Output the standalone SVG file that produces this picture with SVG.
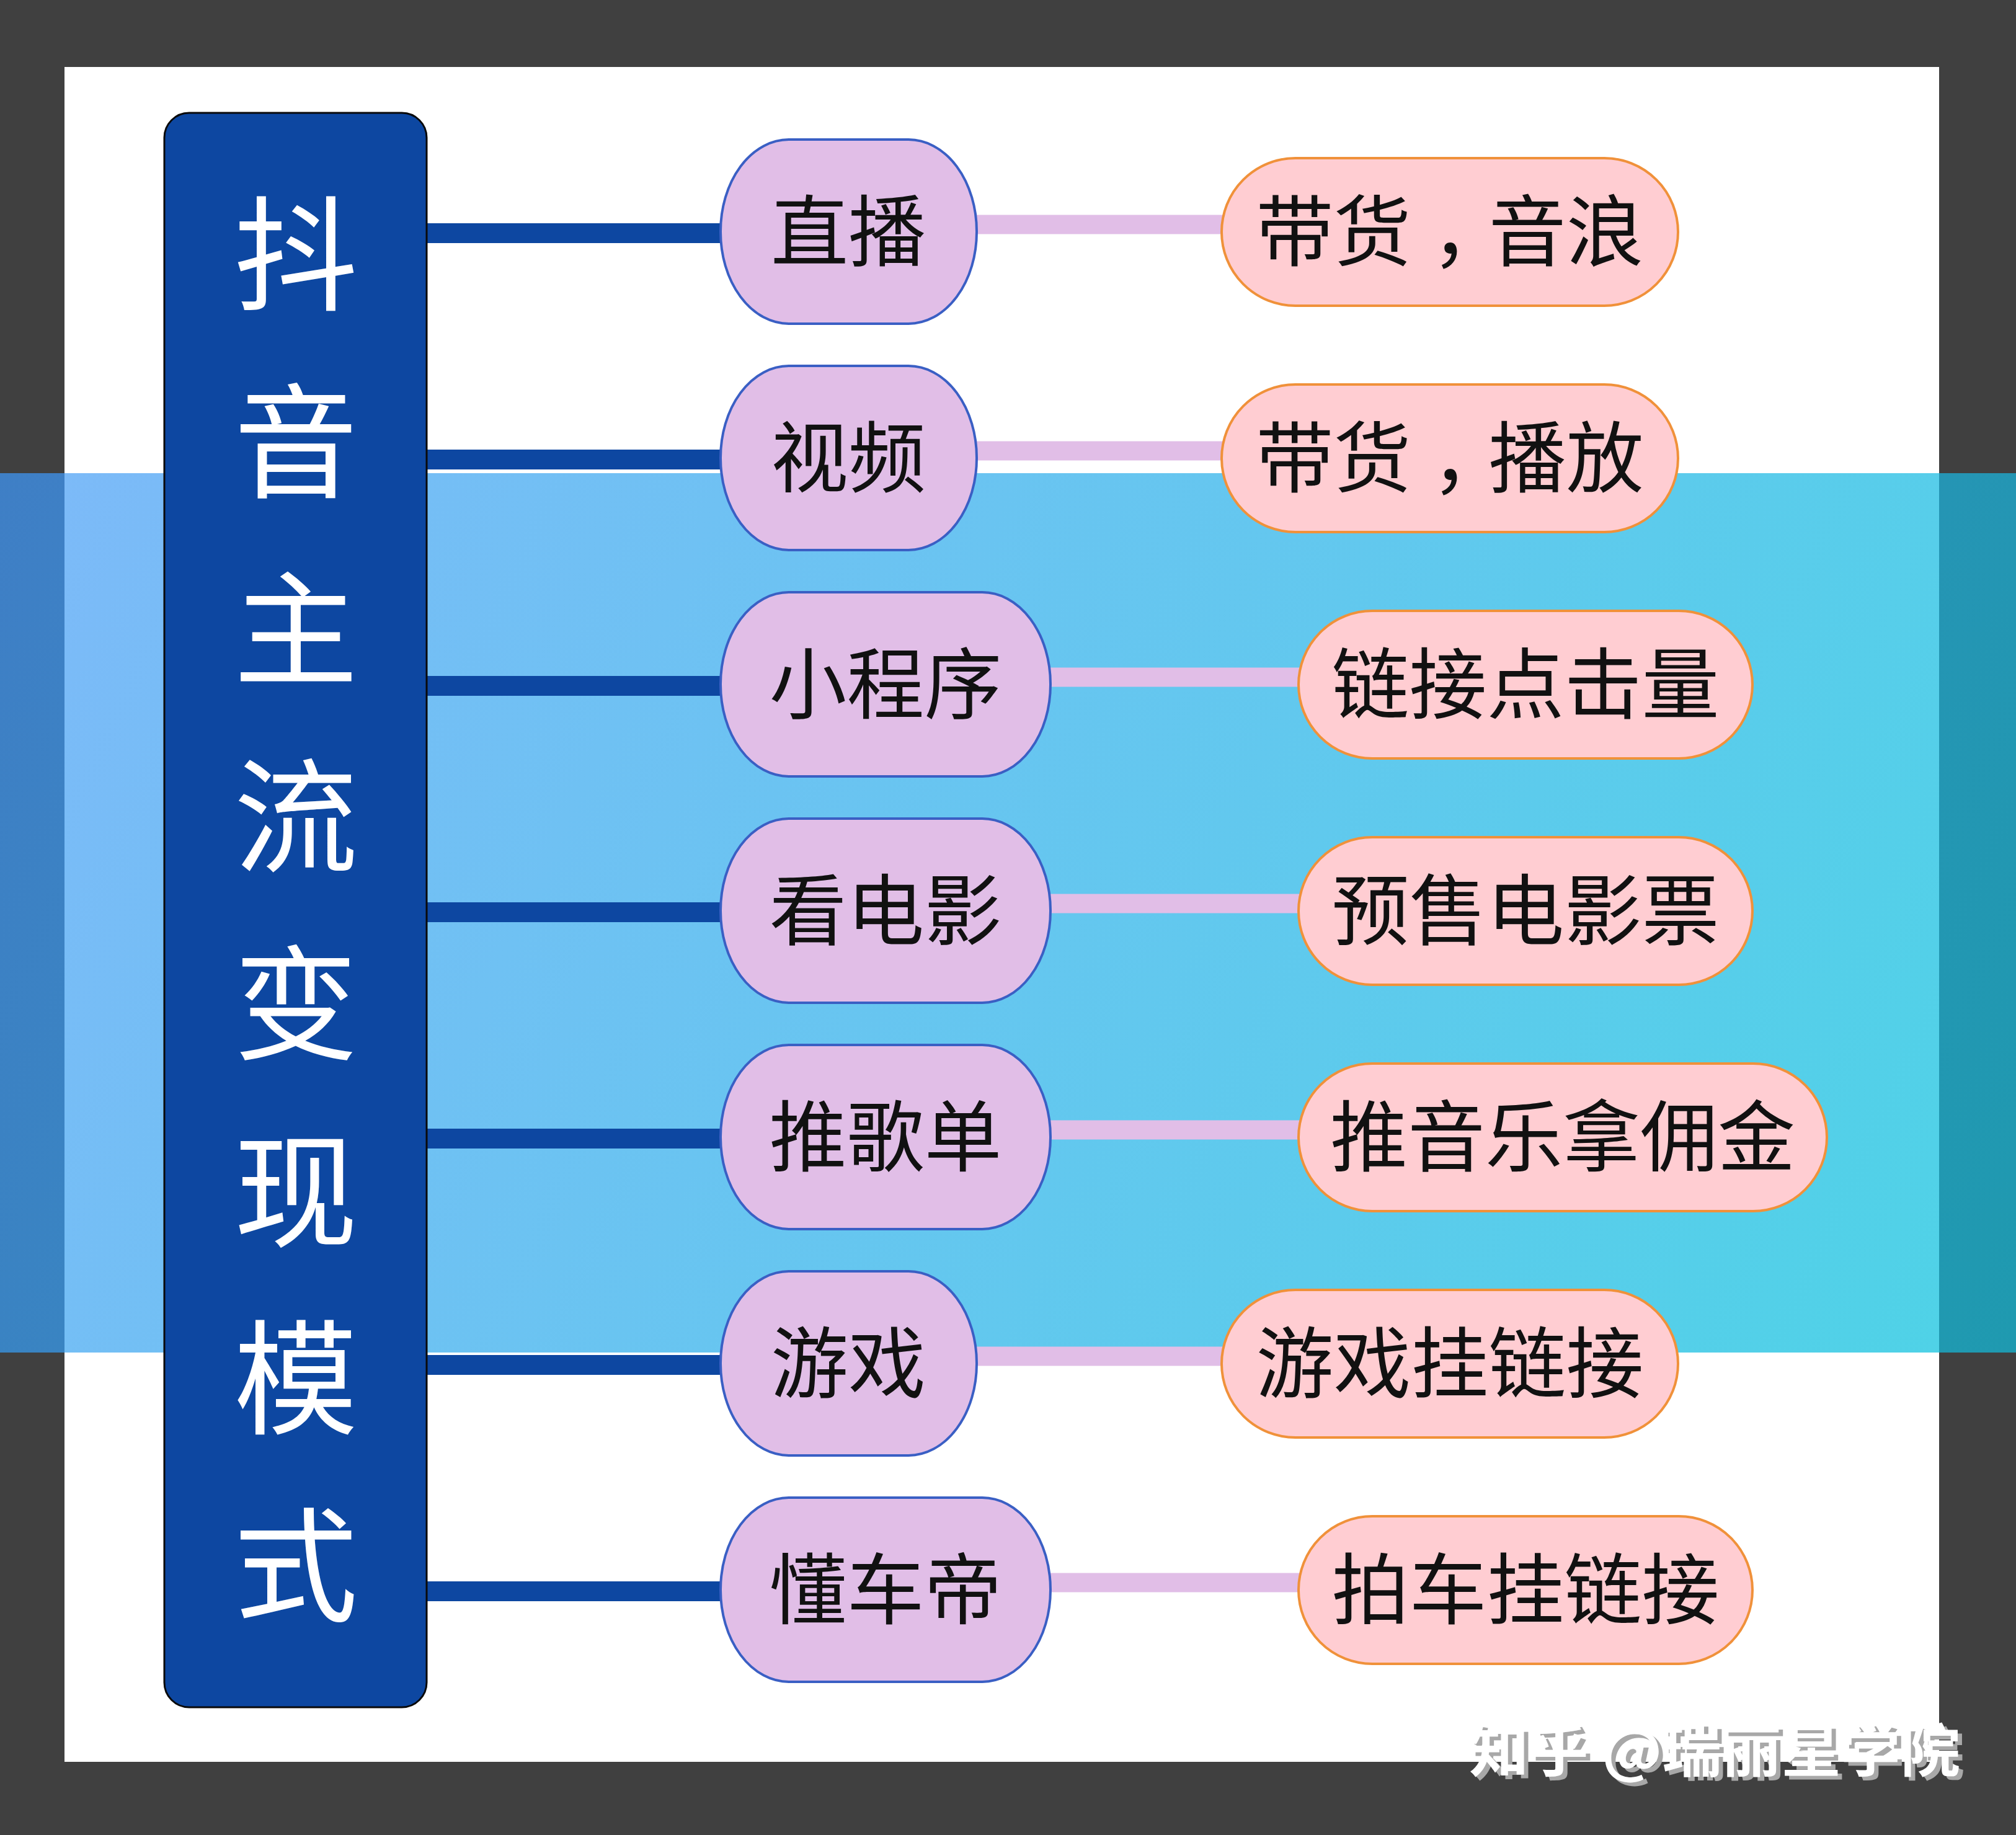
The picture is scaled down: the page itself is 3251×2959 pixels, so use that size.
<svg xmlns="http://www.w3.org/2000/svg" width="3251" height="2959" viewBox="0 0 3251 2959">
<defs>
<linearGradient id="bandDark" gradientUnits="userSpaceOnUse" x1="0" y1="763" x2="3251" y2="2181">
<stop offset="0" stop-color="#3f7fc6"/>
<stop offset="1" stop-color="#1f9ab0"/>
</linearGradient>
<linearGradient id="bandLight" gradientUnits="userSpaceOnUse" x1="104" y1="763" x2="3127" y2="2181">
<stop offset="0" stop-color="#7cbaf8"/>
<stop offset="1" stop-color="#4fd2e7"/>
</linearGradient>
<filter id="wmShadow" x="-5%" y="-20%" width="110%" height="150%">
<feDropShadow dx="7" dy="6" stdDeviation="0.5" flood-color="#a8a8a8" flood-opacity="1"/>
</filter>
<style>
.l1 { fill: #e1bee7; stroke: #3a5fc4; stroke-width: 4; }
.l2 { fill: #ffcdd2; stroke: #f0913a; stroke-width: 4; }
.t { font-family: "Noto Sans CJK SC", "Noto Sans", sans-serif; font-size: 125px; fill: #111111; text-anchor: middle; }
.tc { font-family: "Noto Sans CJK TC", "Noto Sans CJK SC", sans-serif; font-size: 125px; }
.title { font-family: "Noto Sans CJK SC", "Noto Sans", sans-serif; font-size: 200px; fill: #ffffff; text-anchor: middle; }
.c1 { stroke: #0d47a1; stroke-width: 32; fill: none; }
.c2 { stroke: #e1bee7; stroke-width: 31; fill: none; }
.wm { font-family: "Noto Sans CJK SC", "Noto Sans", sans-serif; font-size: 92px; font-weight: bold; fill: #ffffff; }
</style>
</defs>

<g id="background">
<rect x="0" y="0" width="3251" height="2959" fill="#404040"/>
<rect x="104" y="108" width="3023" height="2733" fill="#ffffff"/>
<rect x="0" y="763" width="3251" height="1418" fill="url(#bandDark)"/>
<rect x="104" y="763" width="3023" height="1418" fill="url(#bandLight)"/>
</g>

<g id="connectors">
<line class="c1" x1="688" y1="376" x2="1164" y2="376"/>
<line class="c1" x1="688" y1="741" x2="1164" y2="741"/>
<line class="c1" x1="688" y1="1106" x2="1164" y2="1106"/>
<line class="c1" x1="688" y1="1471" x2="1164" y2="1471"/>
<line class="c1" x1="688" y1="1836" x2="1164" y2="1836"/>
<line class="c1" x1="688" y1="2201" x2="1164" y2="2201"/>
<line class="c1" x1="688" y1="2566" x2="1164" y2="2566"/>
<line class="c2" x1="1573" y1="362" x2="1972" y2="362"/>
<line class="c2" x1="1573" y1="727" x2="1972" y2="727"/>
<line class="c2" x1="1692" y1="1092" x2="2096" y2="1092"/>
<line class="c2" x1="1692" y1="1457" x2="2096" y2="1457"/>
<line class="c2" x1="1692" y1="1822" x2="2096" y2="1822"/>
<line class="c2" x1="1573" y1="2187" x2="1972" y2="2187"/>
<line class="c2" x1="1692" y1="2552" x2="2096" y2="2552"/>
</g>

<g id="root">
<rect x="265" y="182" width="423" height="2571" rx="40" ry="40" fill="#0d47a1" stroke="#0a0a0a" stroke-width="3"/>
<text class="title" x="477" y="485">抖</text>
<text class="title" x="477" y="787">音</text>
<text class="title" x="477" y="1089">主</text>
<text class="title" x="477" y="1391">流</text>
<text class="title" x="477" y="1693">变</text>
<text class="title" x="477" y="1995">现</text>
<text class="title" x="477" y="2297">模</text>
<text class="title" x="477" y="2599">式</text>
</g>

<g id="n-zhibo">
<rect class="l1" x="1162" y="225" width="413" height="297" rx="110" ry="148"/>
<text class="t" x="1368" y="419">直播</text>
</g>
<g id="n-shipin">
<rect class="l1" x="1162" y="590" width="413" height="297" rx="110" ry="148"/>
<text class="t" x="1368" y="784">视频</text>
</g>
<g id="n-xiaochengxu">
<rect class="l1" x="1162" y="955" width="532" height="297" rx="110" ry="148"/>
<text class="t" x="1428" y="1149">小程序</text>
</g>
<g id="n-kandianying">
<rect class="l1" x="1162" y="1320" width="532" height="297" rx="110" ry="148"/>
<text class="t" x="1428" y="1514">看电影</text>
</g>
<g id="n-tuigedan">
<rect class="l1" x="1162" y="1685" width="532" height="297" rx="110" ry="148"/>
<text class="t" x="1428" y="1879">推歌单</text>
</g>
<g id="n-youxi">
<rect class="l1" x="1162" y="2050" width="413" height="297" rx="110" ry="148"/>
<text class="t" x="1368" y="2244">游戏</text>
</g>
<g id="n-dongchedi">
<rect class="l1" x="1162" y="2415" width="532" height="297" rx="110" ry="148"/>
<text class="t" x="1428" y="2609">懂车帝</text>
</g>

<g id="n-daihuo-yinlang">
<rect class="l2" x="1970" y="255" width="736" height="238" rx="119" ry="119"/>
<text class="t" x="2338" y="419">带货<tspan class="tc" dy="38">，</tspan><tspan dy="-38">音浪</tspan></text>
</g>
<g id="n-daihuo-bofang">
<rect class="l2" x="1970" y="620" width="736" height="238" rx="119" ry="119"/>
<text class="t" x="2338" y="784">带货<tspan class="tc" dy="38">，</tspan><tspan dy="-38">播放</tspan></text>
</g>
<g id="n-lianjie">
<rect class="l2" x="2094" y="985" width="732" height="238" rx="119" ry="119"/>
<text class="t" x="2460" y="1149">链接点击量</text>
</g>
<g id="n-yushou">
<rect class="l2" x="2094" y="1350" width="732" height="238" rx="119" ry="119"/>
<text class="t" x="2460" y="1514">预售电影票</text>
</g>
<g id="n-tuiyinyue">
<rect class="l2" x="2094" y="1715" width="852" height="238" rx="119" ry="119"/>
<text class="t" x="2520" y="1879">推音乐拿佣金</text>
</g>
<g id="n-youxigua">
<rect class="l2" x="1970" y="2080" width="736" height="238" rx="119" ry="119"/>
<text class="t" x="2338" y="2244">游戏挂链接</text>
</g>
<g id="n-paiche">
<rect class="l2" x="2094" y="2445" width="732" height="238" rx="119" ry="119"/>
<text class="t" x="2460" y="2609">拍车挂链接</text>
</g>

<g id="watermark">
<text class="wm" x="2369" y="2857" textLength="792" lengthAdjust="spacingAndGlyphs" filter="url(#wmShadow)">知乎 @瑞丽星学院</text>
</g>
</svg>
